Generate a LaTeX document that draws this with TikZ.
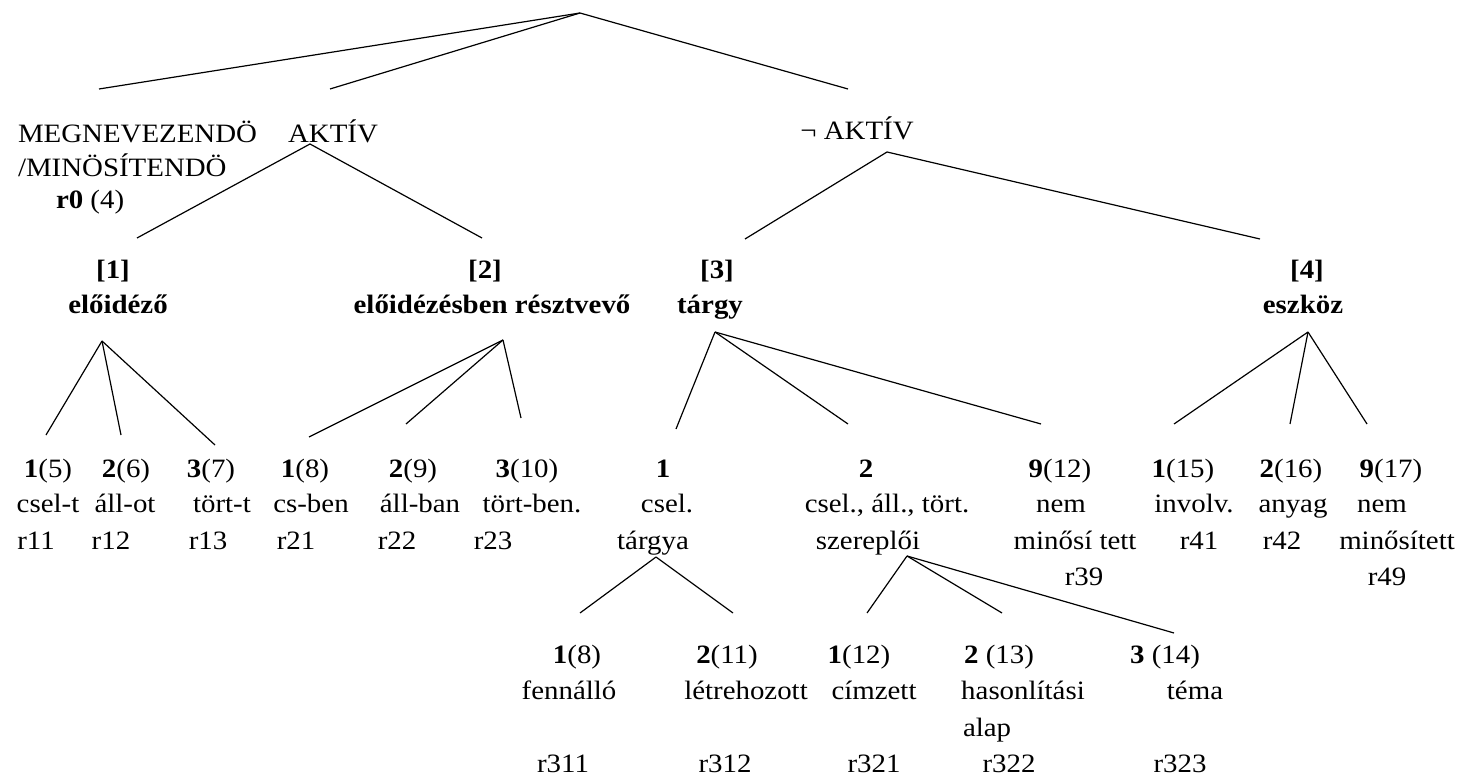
\documentclass[tikz,border=0pt]{standalone}
\usepackage{fontspec}
\setmainfont{Liberation Serif}[FakeStretch=1.09]
\begin{document}
\begin{tikzpicture}[x=1pt,y=-1pt,
  every node/.style={inner sep=0pt,outer sep=0pt,font=\fontsize{26.5}{35}\selectfont},
  txt/.style={anchor=base},
  txtw/.style={anchor=base west},
  hd/.style={anchor=base,font=\fontsize{26.5}{35}\selectfont\bfseries},
  conn/.style={line width=1.2pt,line join=miter}]
\useasboundingbox (0,0) rectangle (1463,775);
% ---------- level 1 ----------
\node[txtw] (meg1) at (18,143) {MEGNEVEZENDÖ};
\node[txtw] (meg2) at (18,177) {/MINÖSÍTENDÖ};
\node[txtw] (meg3) at (56,209) {\textbf{r0} (4)};
\node[txt] (aktiv) at (333,143) {AKTÍV};
\node[txt] (naktiv) at (857,140) {¬ AKTÍV};
% ---------- level 2 ----------
\node[hd] (b1a) at (113,279) {[1]};
\node[hd] (b1b) at (118,313) {előidéző};
\node[hd] (b2a) at (485,279) {[2]};
\node[hd] (b2b) at (492,313) {előidézésben résztvevő};
\node[hd] (b3a) at (717,279) {[3]};
\node[hd] (b3b) at (710,313) {tárgy};
\node[hd] (b4a) at (1307,279) {[4]};
\node[hd] (b4b) at (1303,313) {eszköz};
% ---------- level 3 ----------
\node[txt] (c11a) at (48,477) {\textbf{1}(5)};
\node[txt] (c11b) at (48,512) {csel-t};
\node[txt] (c11c) at (36,549) {r11};
\node[txt] (c12a) at (126,477) {\textbf{2}(6)};
\node[txt] (c12b) at (125,512) {áll-ot};
\node[txt] (c12c) at (111,549) {r12};
\node[txt] (c13a) at (211,477) {\textbf{3}(7)};
\node[txt] (c13b) at (222,512) {tört-t};
\node[txt] (c13c) at (208,549) {r13};
\node[txt] (c21a) at (305,477) {\textbf{1}(8)};
\node[txt] (c21b) at (311,512) {cs-ben};
\node[txt] (c21c) at (296,549) {r21};
\node[txt] (c22a) at (413,477) {\textbf{2}(9)};
\node[txt] (c22b) at (420,512) {áll-ban};
\node[txt] (c22c) at (397,549) {r22};
\node[txt] (c23a) at (527,477) {\textbf{3}(10)};
\node[txt] (c23b) at (532,512) {tört-ben.};
\node[txt] (c23c) at (493,549) {r23};
\node[txt] (c31a) at (663,477) {\textbf{1}};
\node[txt] (c31b) at (667,512) {csel.};
\node[txt] (c31c) at (653,549) {tárgya};
\node[txt] (c32a) at (866,477) {\textbf{2}};
\node[txt] (c32b) at (887,512) {csel., áll., tört.};
\node[txt] (c32c) at (868,549) {szereplői};
\node[txt] (c39a) at (1060,477) {\textbf{9}(12)};
\node[txt] (c39b) at (1061,512) {nem};
\node[txt] (c39c) at (1075,549) {minősí tett};
\node[txt] (c39d) at (1084,585) {r39};
\node[txt] (c41a) at (1183,477) {\textbf{1}(15)};
\node[txt] (c41b) at (1194,512) {involv.};
\node[txt] (c41c) at (1199,549) {r41};
\node[txt] (c42a) at (1291,477) {\textbf{2}(16)};
\node[txt] (c42b) at (1293,512) {anyag};
\node[txt] (c42c) at (1282,549) {r42};
\node[txt] (c49a) at (1391,477) {\textbf{9}(17)};
\node[txt] (c49b) at (1382,512) {nem};
\node[txt] (c49c) at (1397,549) {minősített};
\node[txt] (c49d) at (1387,585) {r49};
% ---------- level 4 ----------
\node[txt] (d311a) at (577,663) {\textbf{1}(8)};
\node[txt] (d311b) at (569,699) {fennálló};
\node[txt] (d311c) at (563,772) {r311};
\node[txt] (d312a) at (727,663) {\textbf{2}(11)};
\node[txt] (d312b) at (746,699) {létrehozott};
\node[txt] (d312c) at (725,772) {r312};
\node[txt] (d321a) at (859,663) {\textbf{1}(12)};
\node[txt] (d321b) at (874,699) {címzett};
\node[txt] (d321c) at (874,772) {r321};
\node[txt] (d322a) at (999,663) {\textbf{2} (13)};
\node[txt] (d322b) at (1023,699) {hasonlítási};
\node[txtw] (d322c) at (963,736) {alap};
\node[txt] (d322d) at (1009,772) {r322};
\node[txt] (d323a) at (1165,663) {\textbf{3} (14)};
\node[txt] (d323b) at (1195,699) {téma};
\node[txt] (d323c) at (1180,772) {r323};
% ---------- connector points ----------
\coordinate (root) at (580,13);
\coordinate (megT) at (99,89);
\coordinate (aktT) at (330,89);
\coordinate (naktT) at (848,89);
\coordinate (aktB) at (310,144);
\coordinate (naktB) at (887,152);
\coordinate (b1T) at (137,238);
\coordinate (b2T) at (482,238);
\coordinate (b3T) at (745,239);
\coordinate (b4T) at (1260,239);
\coordinate (b1B) at (102,341);
\coordinate (b2B) at (503,340);
\coordinate (b3B) at (715,332);
\coordinate (b4B) at (1308,332);
\coordinate (c11T) at (46,435);
\coordinate (c12T) at (121,435);
\coordinate (c13T) at (215,445);
\coordinate (c21T) at (309,437);
\coordinate (c22T) at (406,424);
\coordinate (c23T) at (521,418);
\coordinate (c31T) at (676,429);
\coordinate (c32T) at (848,424);
\coordinate (c39T) at (1041,424);
\coordinate (c41T) at (1174,424);
\coordinate (c42T) at (1290,424);
\coordinate (c49T) at (1367,424);
\coordinate (c31B) at (656,557);
\coordinate (c32B) at (907,556);
\coordinate (d311T) at (580,613);
\coordinate (d312T) at (733,613);
\coordinate (d321T) at (867,613);
\coordinate (d322T) at (1002,613);
\coordinate (d323T) at (1174,633);
% ---------- connectors ----------
\draw[conn] (megT) -- (root) -- (naktT);
\draw[conn] (root) -- (aktT);
\draw[conn] (b1T) -- (aktB) -- (b2T);
\draw[conn] (b3T) -- (naktB) -- (b4T);
\draw[conn] (b1B) -- (c11T); \draw[conn] (b1B) -- (c12T); \draw[conn] (b1B) -- (c13T);
\draw[conn] (b2B) -- (c21T); \draw[conn] (b2B) -- (c22T); \draw[conn] (b2B) -- (c23T);
\draw[conn] (b3B) -- (c31T); \draw[conn] (b3B) -- (c32T); \draw[conn] (b3B) -- (c39T);
\draw[conn] (b4B) -- (c41T); \draw[conn] (b4B) -- (c42T); \draw[conn] (b4B) -- (c49T);
\draw[conn] (c31B) -- (d311T); \draw[conn] (c31B) -- (d312T);
\draw[conn] (c32B) -- (d321T); \draw[conn] (c32B) -- (d322T); \draw[conn] (c32B) -- (d323T);
\end{tikzpicture}
\end{document}
